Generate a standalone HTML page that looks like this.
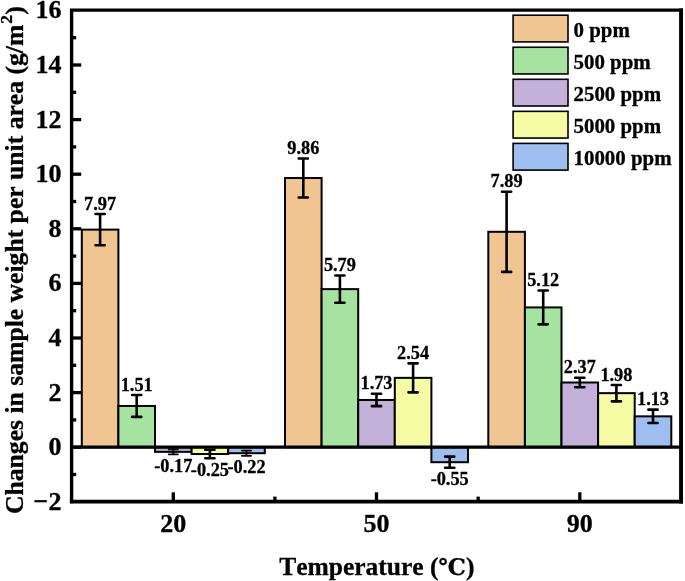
<!DOCTYPE html>
<html lang="en"><head><meta charset="utf-8"><title>Changes in sample weight per unit area</title>
<style>html,body{margin:0;padding:0;background:#fff}svg{display:block}text{font-kerning:none;stroke:#000;stroke-width:.3px;stroke-linejoin:round}</style></head>
<body>
<svg width="685" height="581" viewBox="0 0 685 581" font-family='"Liberation Serif", "DejaVu Serif", serif' font-weight="bold" fill="#000">
<rect width="685" height="581" fill="#fff"/>
<rect x="81.80" y="229.62" width="36.60" height="217.58" fill="#F0C592" stroke="#000" stroke-width="2.0"/>
<rect x="118.40" y="405.98" width="36.60" height="41.22" fill="#A6E3A1" stroke="#000" stroke-width="2.0"/>
<rect x="155.00" y="447.20" width="36.60" height="4.64" fill="#C3B1DA" stroke="#000" stroke-width="2.0"/>
<rect x="191.60" y="447.20" width="36.60" height="6.82" fill="#F6FCA3" stroke="#000" stroke-width="2.0"/>
<rect x="228.20" y="447.20" width="36.60" height="6.01" fill="#9EBEF0" stroke="#000" stroke-width="2.0"/>
<rect x="285.00" y="178.02" width="36.60" height="269.18" fill="#F0C592" stroke="#000" stroke-width="2.0"/>
<rect x="321.60" y="289.13" width="36.60" height="158.07" fill="#A6E3A1" stroke="#000" stroke-width="2.0"/>
<rect x="358.20" y="399.97" width="36.60" height="47.23" fill="#C3B1DA" stroke="#000" stroke-width="2.0"/>
<rect x="394.80" y="377.86" width="36.60" height="69.34" fill="#F6FCA3" stroke="#000" stroke-width="2.0"/>
<rect x="431.40" y="447.20" width="36.60" height="15.01" fill="#9EBEF0" stroke="#000" stroke-width="2.0"/>
<rect x="488.30" y="231.80" width="36.60" height="215.40" fill="#F0C592" stroke="#000" stroke-width="2.0"/>
<rect x="524.90" y="307.42" width="36.60" height="139.78" fill="#A6E3A1" stroke="#000" stroke-width="2.0"/>
<rect x="561.50" y="382.50" width="36.60" height="64.70" fill="#C3B1DA" stroke="#000" stroke-width="2.0"/>
<rect x="598.10" y="393.15" width="36.60" height="54.05" fill="#F6FCA3" stroke="#000" stroke-width="2.0"/>
<rect x="634.70" y="416.35" width="36.60" height="30.85" fill="#9EBEF0" stroke="#000" stroke-width="2.0"/>
<line x1="71.6" x2="681.3" y1="447.2" y2="447.2" stroke="#000" stroke-width="3.2"/>
<path d="M100.10 214.06V245.18M95.50 214.06H104.70M95.50 245.18H104.70" stroke="#000" stroke-width="2.6" stroke-linecap="round" fill="none"/>
<text x="100.10" y="209.66" font-size="18.3" text-anchor="middle">7.97</text>
<path d="M136.70 395.06V416.90M132.10 395.06H141.30M132.10 416.90H141.30" stroke="#000" stroke-width="2.6" stroke-linecap="round" fill="none"/>
<text x="136.70" y="390.66" font-size="18.3" text-anchor="middle">1.51</text>
<path d="M173.30 449.38V454.30M168.70 449.38H177.90M168.70 454.30H177.90" stroke="#000" stroke-width="1.8" stroke-linecap="round" fill="none"/>
<text x="173.30" y="471.70" font-size="18.3" text-anchor="middle">-0.17</text>
<path d="M209.90 449.79V458.26M205.30 449.79H214.50M205.30 458.26H214.50" stroke="#000" stroke-width="2.6" stroke-linecap="round" fill="none"/>
<text x="209.90" y="475.66" font-size="18.3" text-anchor="middle">-0.25</text>
<path d="M246.50 450.61V455.80M241.90 450.61H251.10M241.90 455.80H251.10" stroke="#000" stroke-width="1.8" stroke-linecap="round" fill="none"/>
<text x="246.50" y="473.20" font-size="18.3" text-anchor="middle">-0.22</text>
<path d="M303.30 158.53V197.51M298.70 158.53H307.90M298.70 197.51H307.90" stroke="#000" stroke-width="2.6" stroke-linecap="round" fill="none"/>
<text x="303.30" y="154.13" font-size="18.3" text-anchor="middle">9.86</text>
<path d="M339.90 275.54V302.73M335.30 275.54H344.50M335.30 302.73H344.50" stroke="#000" stroke-width="2.6" stroke-linecap="round" fill="none"/>
<text x="339.90" y="271.14" font-size="18.3" text-anchor="middle">5.79</text>
<path d="M376.50 393.77V406.17M371.90 393.77H381.10M371.90 406.17H381.10" stroke="#000" stroke-width="2.6" stroke-linecap="round" fill="none"/>
<text x="376.50" y="389.37" font-size="18.3" text-anchor="middle">1.73</text>
<path d="M413.10 363.36V392.35M408.50 363.36H417.70M408.50 392.35H417.70" stroke="#000" stroke-width="2.6" stroke-linecap="round" fill="none"/>
<text x="413.10" y="358.96" font-size="18.3" text-anchor="middle">2.54</text>
<path d="M449.70 456.62V467.81M445.10 456.62H454.30M445.10 467.81H454.30" stroke="#000" stroke-width="2.6" stroke-linecap="round" fill="none"/>
<text x="449.70" y="485.21" font-size="18.3" text-anchor="middle">-0.55</text>
<path d="M506.60 191.70V271.91M502.00 191.70H511.20M502.00 271.91H511.20" stroke="#000" stroke-width="2.6" stroke-linecap="round" fill="none"/>
<text x="506.60" y="187.30" font-size="18.3" text-anchor="middle">7.89</text>
<path d="M543.20 290.50V324.35M538.60 290.50H547.80M538.60 324.35H547.80" stroke="#000" stroke-width="2.6" stroke-linecap="round" fill="none"/>
<text x="543.20" y="286.10" font-size="18.3" text-anchor="middle">5.12</text>
<path d="M579.80 377.69V387.30M575.20 377.69H584.40M575.20 387.30H584.40" stroke="#000" stroke-width="2.6" stroke-linecap="round" fill="none"/>
<text x="579.80" y="373.29" font-size="18.3" text-anchor="middle">2.37</text>
<path d="M616.40 384.96V401.34M611.80 384.96H621.00M611.80 401.34H621.00" stroke="#000" stroke-width="2.6" stroke-linecap="round" fill="none"/>
<text x="616.40" y="380.56" font-size="18.3" text-anchor="middle">1.98</text>
<path d="M653.00 409.66V423.04M648.40 409.66H657.60M648.40 423.04H657.60" stroke="#000" stroke-width="2.6" stroke-linecap="round" fill="none"/>
<text x="653.00" y="405.26" font-size="18.3" text-anchor="middle">1.13</text>
<path d="M71.6 501.6V10.1H681.3" fill="none" stroke="#000" stroke-width="3.4" stroke-linecap="square"/>
<path d="M681.05 8.4V503.55" fill="none" stroke="#000" stroke-width="3.9"/>
<path d="M69.89999999999999 501.70000000000005H683.0" fill="none" stroke="#000" stroke-width="3.7"/>
<line x1="71.6" x2="76.19999999999999" y1="474.50" y2="474.50" stroke="#000" stroke-width="3.3"/>
<line x1="71.6" x2="81.19999999999999" y1="447.20" y2="447.20" stroke="#000" stroke-width="3.3"/>
<line x1="71.6" x2="76.19999999999999" y1="419.90" y2="419.90" stroke="#000" stroke-width="3.3"/>
<line x1="71.6" x2="81.19999999999999" y1="392.60" y2="392.60" stroke="#000" stroke-width="3.3"/>
<line x1="71.6" x2="76.19999999999999" y1="365.30" y2="365.30" stroke="#000" stroke-width="3.3"/>
<line x1="71.6" x2="81.19999999999999" y1="338.00" y2="338.00" stroke="#000" stroke-width="3.3"/>
<line x1="71.6" x2="76.19999999999999" y1="310.70" y2="310.70" stroke="#000" stroke-width="3.3"/>
<line x1="71.6" x2="81.19999999999999" y1="283.40" y2="283.40" stroke="#000" stroke-width="3.3"/>
<line x1="71.6" x2="76.19999999999999" y1="256.10" y2="256.10" stroke="#000" stroke-width="3.3"/>
<line x1="71.6" x2="81.19999999999999" y1="228.80" y2="228.80" stroke="#000" stroke-width="3.3"/>
<line x1="71.6" x2="76.19999999999999" y1="201.50" y2="201.50" stroke="#000" stroke-width="3.3"/>
<line x1="71.6" x2="81.19999999999999" y1="174.20" y2="174.20" stroke="#000" stroke-width="3.3"/>
<line x1="71.6" x2="76.19999999999999" y1="146.90" y2="146.90" stroke="#000" stroke-width="3.3"/>
<line x1="71.6" x2="81.19999999999999" y1="119.60" y2="119.60" stroke="#000" stroke-width="3.3"/>
<line x1="71.6" x2="76.19999999999999" y1="92.30" y2="92.30" stroke="#000" stroke-width="3.3"/>
<line x1="71.6" x2="81.19999999999999" y1="65.00" y2="65.00" stroke="#000" stroke-width="3.3"/>
<line x1="71.6" x2="76.19999999999999" y1="37.70" y2="37.70" stroke="#000" stroke-width="3.3"/>
<text x="61.4" y="509.80" font-size="26.0" text-anchor="end">−2</text>
<text x="61.4" y="455.20" font-size="26.0" text-anchor="end">0</text>
<text x="61.4" y="400.60" font-size="26.0" text-anchor="end">2</text>
<text x="61.4" y="346.00" font-size="26.0" text-anchor="end">4</text>
<text x="61.4" y="291.40" font-size="26.0" text-anchor="end">6</text>
<text x="61.4" y="236.80" font-size="26.0" text-anchor="end">8</text>
<text x="61.4" y="182.20" font-size="26.0" text-anchor="end">10</text>
<text x="61.4" y="127.60" font-size="26.0" text-anchor="end">12</text>
<text x="61.4" y="73.00" font-size="26.0" text-anchor="end">14</text>
<text x="61.4" y="18.40" font-size="26.0" text-anchor="end">16</text>
<line x1="173.3" x2="173.3" y1="501.6" y2="492.3" stroke="#000" stroke-width="3.3"/>
<line x1="376.5" x2="376.5" y1="501.6" y2="492.3" stroke="#000" stroke-width="3.3"/>
<line x1="579.8" x2="579.8" y1="501.6" y2="492.3" stroke="#000" stroke-width="3.3"/>
<line x1="274.9" x2="274.9" y1="501.6" y2="496.6" stroke="#000" stroke-width="3.3"/>
<line x1="478.15" x2="478.15" y1="501.6" y2="496.6" stroke="#000" stroke-width="3.3"/>
<text x="173.3" y="532.3" font-size="26.0" text-anchor="middle">20</text>
<text x="376.5" y="532.3" font-size="26.0" text-anchor="middle">50</text>
<text x="579.8" y="532.3" font-size="26.0" text-anchor="middle">90</text>
<text x="376.8" y="574.9" font-size="25.5" text-anchor="middle">Temperature (<tspan font-family="DejaVu Serif" font-size="22.8">℃</tspan>)</text>
<text transform="translate(23,514) rotate(-90)" font-size="25.65">Changes in sample weight per unit area (g/m<tspan font-size="17.5" dy="-10.7" dx="0.9">2</tspan><tspan dy="10.7" dx="0.3">)</tspan></text>
<rect x="513.1" y="15.20" width="54.9" height="26.7" fill="#F0C592" stroke="#000" stroke-width="1.6"/>
<text x="573.5" y="37.20" font-size="20.9">0 ppm</text>
<rect x="513.1" y="47.25" width="54.9" height="26.7" fill="#A6E3A1" stroke="#000" stroke-width="1.6"/>
<text x="573.5" y="69.25" font-size="20.9">500 ppm</text>
<rect x="513.1" y="79.30" width="54.9" height="26.7" fill="#C3B1DA" stroke="#000" stroke-width="1.6"/>
<text x="573.5" y="101.30" font-size="20.9">2500 ppm</text>
<rect x="513.1" y="111.35" width="54.9" height="26.7" fill="#F6FCA3" stroke="#000" stroke-width="1.6"/>
<text x="573.5" y="133.35" font-size="20.9">5000 ppm</text>
<rect x="513.1" y="143.40" width="54.9" height="26.7" fill="#9EBEF0" stroke="#000" stroke-width="1.6"/>
<text x="573.5" y="165.40" font-size="20.9">10000 ppm</text>
</svg>
</body></html>
